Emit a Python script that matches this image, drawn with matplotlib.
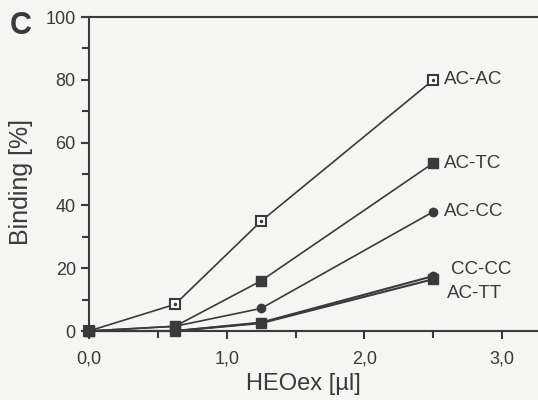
import matplotlib
matplotlib.use("Agg")
import matplotlib.pyplot as plt
from matplotlib.ticker import MultipleLocator, FuncFormatter

plt.rcParams['font.family'] = ['Liberation Sans', 'DejaVu Sans']

heo = [0.0, 0.625, 1.25, 2.5]
ac_ac = [0, 8.5, 35, 80]
ac_tc = [0, 1.5, 16, 53.5]
ac_cc = [0, 1.5, 7.2, 38]
cc_cc = [0, 0, 2.7, 17.5]
ac_tt = [0, 0, 2.5, 16.5]
labels = ["AC-AC", "AC-TC", "AC-CC", "CC-CC", "AC-TT"]

ink = '#3a3a3a'
bg = '#f5f5f3'

fig = plt.figure(figsize=(5.38, 4.0), dpi=100, facecolor=bg)
ax = fig.add_axes([89/538, 69/400, 449/538, 314/400], facecolor=bg)

ax.plot(heo, ac_ac, color=ink, lw=1.2, marker='s', ms=7, mfc='white', mec=ink, mew=1.5, clip_on=False, zorder=3)
ax.plot(heo, ac_ac, ls='none', marker='.', ms=3, color=ink, clip_on=False, zorder=4)
ax.plot(heo, ac_tc, color=ink, lw=1.2, marker='s', ms=7, clip_on=False, zorder=3)
ax.plot(heo, ac_cc, color=ink, lw=1.2, marker='o', ms=6, clip_on=False, zorder=3)
ax.plot(heo, cc_cc, color=ink, lw=1.5, marker='o', ms=6, clip_on=False, zorder=3)
ax.plot(heo, ac_tt, color=ink, lw=1.5, marker='s', ms=7, clip_on=False, zorder=3)

ax.set_xlim(0, 3.26)
ax.set_ylim(0, 100)
for s in ['left', 'bottom', 'top']:
    ax.spines[s].set_color(ink)
    ax.spines[s].set_linewidth(1.5)
ax.spines['right'].set_visible(False)

ax.xaxis.set_major_locator(MultipleLocator(1.0))
ax.xaxis.set_minor_locator(MultipleLocator(0.5))
ax.yaxis.set_major_locator(MultipleLocator(20))
ax.yaxis.set_minor_locator(MultipleLocator(10))
ax.xaxis.set_major_formatter(FuncFormatter(lambda v, p: f"{v:.1f}".replace('.', ',')))
ax.tick_params(which='both', direction='out', color=ink, width=1.5, labelcolor=ink, labelsize=13)
ax.tick_params(which='major', length=6)
ax.tick_params(which='minor', length=5)
ax.tick_params(axis='x', pad=8)

ax.set_xlabel("HEOex [µl]", fontsize=17, color=ink)
ax.xaxis.set_label_coords(1.56/3.26, -0.135)
ax.set_ylabel("Binding [%]", fontsize=18, color=ink)
ax.yaxis.set_label_coords(-0.125, 0.475)

fs = 13.5
tx = 2.58
ax.text(tx, ac_ac[-1], labels[0], fontsize=fs, color=ink, va='center', ha='left')
ax.text(tx, ac_tc[-1], labels[1], fontsize=fs, color=ink, va='center', ha='left')
ax.text(tx, ac_cc[-1], labels[2], fontsize=fs, color=ink, va='center', ha='left')
ax.text(2.63, 19.5, labels[3], fontsize=fs, color=ink, va='center', ha='left')
ax.text(2.6, 11.8, labels[4], fontsize=fs, color=ink, va='center', ha='left')

fig.text(10/538, 1 - 26/400, "C", fontsize=22, fontweight='bold', color=ink, va='center', ha='left')

fig.savefig("out.png", dpi=100, facecolor=bg)
